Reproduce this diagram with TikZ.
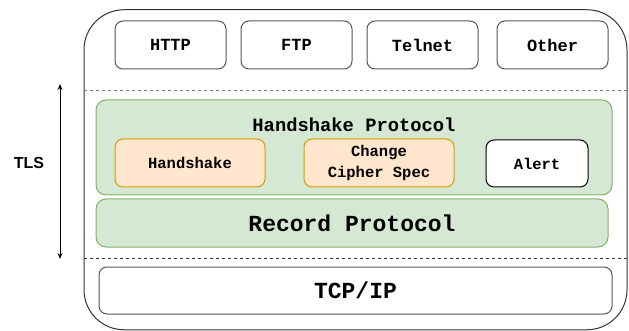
\documentclass[tikz,border=0pt]{standalone}
\usepackage{fontspec}
\setmainfont{Liberation Sans}
\newfontfamily\codefont{Liberation Mono}
\usetikzlibrary{arrows.meta}
\definecolor{greenfill}{HTML}{D5E8D4}
\definecolor{greenline}{HTML}{82B366}
\definecolor{orangefill}{HTML}{FFE6CC}
\definecolor{orangeline}{HTML}{D79B00}
\definecolor{boxline}{HTML}{555555}
\definecolor{outerline}{HTML}{333333}
\tikzset{
  appbox/.style={draw=boxline, line width=1pt, rounded corners=8pt, fill=white,
    minimum width=111pt, minimum height=48pt, inner sep=0pt,
    font=\codefont\bfseries\fontsize{17}{20}\selectfont},
  greenbox/.style={draw=greenline, fill=greenfill, line width=1pt, rounded corners=10pt, inner sep=0pt},
  subbox/.style={draw=orangeline, fill=orangefill, line width=1pt, rounded corners=8pt,
    minimum width=150pt, minimum height=48pt, inner sep=0pt, align=center,
    font=\codefont\bfseries\fontsize{15.5}{21}\selectfont},
  whitesub/.style={draw=black, fill=white, line width=1pt, rounded corners=8pt,
    minimum width=102pt, minimum height=47pt, inner sep=0pt,
    font=\codefont\bfseries\fontsize{15.5}{21}\selectfont},
  bigtext/.style={font=\codefont\bfseries\fontsize{23}{26}\selectfont},
  sepline/.style={dash pattern=on 3pt off 3pt, line width=0.8pt},
}
\begin{document}
\begin{tikzpicture}[x=1pt, y=-1pt]
\useasboundingbox (0,0) rectangle (629,331);
% outer container
\node[draw=outerline, line width=1pt, rounded corners=40pt, minimum width=543pt,
  minimum height=320pt, inner sep=0pt] (outer) at (355.5,169.75) {};
% application protocols
\node[appbox] (http) at (170.5,45) {HTTP};
\node[appbox] (ftp) at (296.5,45) {FTP};
\node[appbox] (telnet) at (422.5,45) {Telnet};
\node[appbox] (other) at (552.5,45) {Other};
% separators
\coordinate (s1a) at (84,90);
\coordinate (s1b) at (627,90);
\coordinate (s2a) at (84,258);
\coordinate (s2b) at (627,258);
\draw[sepline, draw=gray] (s1a) -- (s1b);
\draw[sepline, draw=outerline] (s2a) -- (s2b);
% handshake protocol layer
\node[greenbox, minimum width=516pt, minimum height=95pt] (hsp) at (354,147.5) {};
\node[font=\codefont\bfseries\fontsize{18.8}{22}\selectfont] (hsptitle) at (354,125) {Handshake Protocol};
\node[subbox] (hs) at (190,163) {Handshake};
\node[subbox] (ccs) at (379,163) {Change\\Cipher Spec};
\node[whitesub] (alert) at (537,163.5) {Alert};
% record layer
\node[greenbox, minimum width=512pt, minimum height=48pt, bigtext] (rec) at (352,223) {Record Protocol};
% transport
\node[draw=boxline, line width=1pt, rounded corners=8pt, minimum width=513pt,
  minimum height=47pt, inner sep=0pt, bigtext] (tcp) at (355.5,290.5) {TCP/IP};
% TLS span
\coordinate (tlstop) at (60,84);
\coordinate (tlsbot) at (60,259);
\draw[line width=0.9pt, {Stealth[length=6pt,width=5pt]}-{Stealth[length=6pt,width=5pt]}] (tlstop) -- (tlsbot);
\node[font=\bfseries\fontsize{16}{19}\selectfont] (tls) at (29,163) {TLS};
\end{tikzpicture}
\end{document}
